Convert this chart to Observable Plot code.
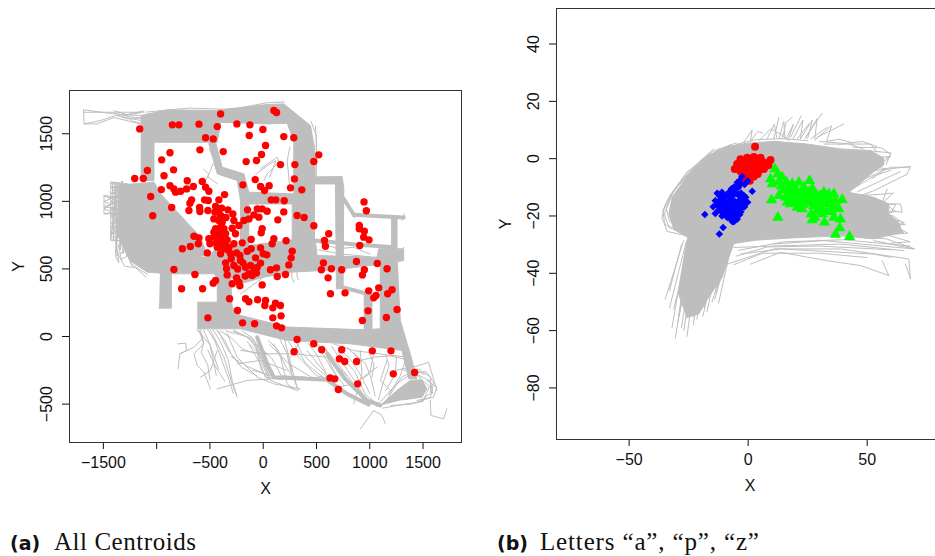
<!DOCTYPE html>
<html><head><meta charset="utf-8">
<script src="https://cdn.jsdelivr.net/npm/d3@7"></script>
<script src="https://cdn.jsdelivr.net/npm/@observablehq/plot@0.6"></script>
<style>
html,body{margin:0;padding:0;background:#fff;width:935px;height:556px;overflow:hidden;position:relative}
#a,#b{position:absolute;top:0}
#a{left:0}#b{left:490px}
.cap{position:absolute;top:529px;white-space:nowrap;color:#111}
.cap b{font:bold 19px "DejaVu Sans";position:absolute;left:0;top:3px}
.cap span{font:25px "Liberation Serif";letter-spacing:.55px;position:absolute;top:-1px}
</style></head><body>
<div id="a"></div><div id="b"></div>
<div class="cap" style="left:10px"><b>(a)</b><span style="left:44px">All Centroids</span></div>
<div class="cap" style="left:497px"><b>(b)</b><span style="left:43px;letter-spacing:.85px">Letters “a”, “p”, “z”</span></div>
<script>
const GRAY = "#bebebe";
// ---------- panel (a) ticks
const aXTicks = [-1500,-1000,-500,0,500,1000,1500];
const aYTicks = [-500,0,500,1000,1500];
// ---------- panel (a) centroids
const centroids = [[-1159,1536],[-853,1566],[-791,1566],[-603,1571],[-400,1647],[-247,1573],[-125,1566],[100,1672],[125,1657],[-431,1553],[-3,1531],[-541,1470],[-469,1462],[-131,1487],[193,1479],[287,1470],[-594,1381],[-375,1368],[22,1413],[-16,1346],[-875,1359],[-953,1307],[-160,1294],[-63,1302],[162,1272],[297,1272],[521,1344],[475,1295],[-1087,1228],[-841,1233],[-1206,1169],[-1125,1169],[-931,1189],[-713,1152],[-572,1147],[-75,1161],[293,1166],[-191,1122],[-25,1110],[56,1115],[12,1080],[256,1100],[362,1085],[-875,1115],[-838,1092],[-956,1087],[-656,1110],[-719,1092],[-775,1075],[-822,1068],[-541,1105],[-510,1075],[-1056,1036],[-363,1050],[-416,1011],[-672,1011],[-688,986],[-550,1011],[-516,1006],[75,1011],[118,1011],[197,1004],[946,996],[968,930],[-859,954],[-597,954],[-594,925],[-697,932],[-519,932],[-447,962],[-453,920],[-331,937],[-147,937],[-56,944],[-10,944],[37,927],[193,922],[-1037,893],[318,895],[384,880],[-285,907],[-400,895],[-463,870],[-88,900],[-41,883],[-134,870],[-181,858],[137,863],[-385,846],[-275,858],[-400,809],[-291,801],[-228,821],[475,819],[902,821],[902,797],[949,779],[-10,797],[-19,767],[615,760],[-260,760],[-463,772],[-353,760],[-650,742],[-603,730],[-510,723],[-463,735],[-400,735],[-338,715],[-113,718],[100,723],[215,708],[943,735],[993,715],[575,710],[584,668],[906,673],[-609,686],[-500,686],[-197,693],[-275,686],[84,686],[-759,649],[-684,666],[-431,661],[-353,673],[-525,619],[-400,612],[-375,649],[-150,631],[-113,649],[-25,656],[272,631],[0,612],[34,604],[-250,619],[-306,612],[-219,599],[-72,582],[262,582],[-213,562],[-353,545],[-275,525],[-25,543],[240,530],[565,545],[875,555],[1071,540],[-119,525],[-166,513],[-56,513],[-838,496],[-344,501],[68,494],[125,508],[546,494],[640,501],[737,494],[949,494],[1162,501],[-88,484],[-134,464],[-641,459],[-338,456],[-169,447],[-103,451],[-63,469],[209,459],[132,444],[931,456],[609,434],[-250,434],[-447,414],[-469,395],[-291,390],[-228,402],[-219,375],[-10,382],[-766,353],[-569,353],[1084,360],[990,338],[1209,346],[1168,316],[631,316],[768,323],[1059,304],[1037,286],[-316,279],[-166,279],[-134,257],[-53,272],[22,267],[15,230],[115,247],[162,230],[90,212],[-241,193],[984,190],[1256,200],[168,153],[90,138],[-519,138],[1156,141],[931,119],[-194,101],[-81,94],[125,79],[172,64],[318,-22],[290,-113],[474,-54],[549,-98],[737,-98],[715,-165],[765,-185],[877,-185],[1024,-106],[1199,-106],[1221,-276],[1421,-266],[627,-306],[671,-313],[887,-350],[705,-392],[-416,858],[-369,797],[-447,797],[-400,710],[-322,661],[-420,770],[-440,690],[-380,690],[-330,640],[-300,575],[-190,545],[-240,500],[-420,930],[-390,950],[-350,880]];
// ---------- panel (a) dense trace bundles, as outlines
const bandTopRight = [[-1150,1635],[-900,1677],[-463,1672],[37,1716],[193,1721],[443,1561],[481,1400],[481,710],[272,710],[272,981],[287,1055],[287,1450],[225,1578],[37,1573],[-400,1585],[-431,1437],[-1025,1437],[-1025,1154],[-1150,1154]];
const bandInner = [[-510,1437],[-447,1437],[-385,1253],[-181,1203],[-135,1068],[287,1055],[287,981],[-135,981],[-135,661],[-213,661],[-213,1006],[-244,1154],[-431,1203],[-510,1425]];
const blobCore = [[-1360,1120],[-1025,1142],[-962,1055],[-588,735],[-525,600],[-869,600],[-869,464],[-1087,476],[-1250,560],[-1370,760]];
const bandCentre = [[-869,606],[-525,587],[-431,661],[-135,673],[272,715],[490,715],[506,599],[1068,587],[1084,649],[1318,649],[1318,562],[1131,538],[662,493],[256,476],[6,439],[-213,390],[-306,439],[-431,439],[-463,464],[-869,464]];
const stubLeft = [[-969,476],[-862,476],[-862,210],[-978,210]];
const columnRight = [[481,1179],[740,1184],[756,1105],[750,353],[687,353],[678,1129],[481,1129]];
const columnFar = [[1200,890],[1256,890],[1256,590],[1200,590]];
const columnLow = [[943,316],[1021,316],[1021,55],[943,55]];
const bandBottom = [[-619,254],[-431,254],[-431,439],[-306,439],[-291,217],[-213,156],[225,70],[943,50],[1099,57],[1099,550],[1256,550],[1287,119],[1380,-128],[1443,-313],[1365,-313],[1302,-103],[818,-54],[225,-29],[-213,57],[-619,57]];
const blobLow = [[1099,-510],[1255,-399],[1380,-325],[1490,-320],[1536,-387],[1490,-449],[1318,-468]];
const aOutlines = [bandTopRight,bandInner,blobCore,bandCentre,stubLeft,columnRight,columnFar,columnLow,bandBottom,blobLow];
// ---------- panel (a) thicker strands
const aStrandsHeavy = [
 [[756,1018],[855,895]],[[849,900],[1318,880]],[[490,710],[870,680],[1225,660]],[[740,365],[975,316]],
 [[599,-128],[755,-301],[974,-473],[1099,-510]],[[37,-202],[99,-301],[599,-320],[787,-424],[990,-503]],[[-57,-5],[37,-202]]
];
// ---------- panel (a) single traces
const aTraces = [
 [[-1687,1677],[-1400,1647],[-1150,1635]],[[-1687,1677],[-1681,1573],[-1525,1598],[-1384,1635],[-1150,1598]],[[-1681,1659],[-1400,1659],[-1119,1659]],[[-1681,1573],[-1560,1573],[-1400,1620],[-1150,1573]],[[-1400,1670],[-1270,1640],[-1150,1655]],[[-1400,1655],[-1280,1610],[-1150,1620]],[[-1360,1645],[-1260,1630],[-1150,1610]],[[-1300,1640],[-1220,1590],[-1150,1580]],[[-1330,1625],[-1240,1650],[-1120,1668]],
 [[-1100,1660],[-700,1690],[-300,1680],[40,1730],[200,1735]],[[450,1590],[500,1480],[495,1180]],
 [[-1431,1142],[-1275,1129],[-1415,1080],[-1228,1080],[-1415,1031],[-1228,1018],[-1494,1043],[-1494,908],[-1244,908],[-1415,858],[-1244,846],[-1425,797],[-1228,784],[-1425,710],[-1212,710]],
 [[-1431,1142],[-1431,710],[-1370,1142],[-1385,600],[-1320,1150],[-1340,640],[-1270,1120],[-1290,620],[-1230,1100],[-1240,560]],
 [[-1431,1130],[-1250,1125],[-1431,1105],[-1250,1090],[-1431,1060],[-1250,1050],[-1431,1030],[-1250,1010],[-1431,985],[-1250,970],[-1431,935],[-1250,925],[-1431,900],[-1250,870],[-1431,840],[-1250,830],[-1431,815],[-1250,790],[-1431,770],[-1250,745],[-1431,735]],
 [[-1415,1140],[-1405,715],[-1390,1145],[-1375,690],[-1350,1140],[-1345,640],[-1330,1150],[-1315,610],[-1295,1135],[-1280,590],[-1262,1110],[-1250,560]],
 [[-1494,1043],[-1431,1020],[-1494,1000],[-1431,975],[-1494,945],[-1431,925]],
 [[-1431,1100],[-1230,1100],[-1431,1000],[-1230,1000],[-1431,950],[-1250,950],[-1431,880],[-1250,880],[-1431,760],[-1220,760]],
 [[-1494,1043],[-1350,1000],[-1494,960],[-1300,930],[-1494,908]],
 [[-1380,710],[-1355,545],[-1385,595],[-1244,660],[-1244,540],[-1150,490],[-1087,460]],[[-1385,640],[-1300,520],[-1200,510],[-1100,440]],[[-1360,680],[-1330,570],[-1270,600],[-1230,520]],
 [[-25,1240],[131,1327],[147,1290],[37,1203],[6,1154]],[[-70,1200],[50,1270],[120,1300],[60,1180]],
 [[-505,1390],[-463,1310],[-431,1260]],[[-560,1240],[-510,1200],[-560,1120],[-500,1070]],[[-470,1280],[-520,1180],[-430,1130]],
 [[250,1400],[225,1300],[250,1100]],[[490,1560],[500,1400],[497,1179]],[[-213,316],[6,439]],[[250,600],[272,430],[290,400]],[[300,590],[320,440],[330,420]],[[-100,1000],[-30,960]],
 [[380,1300],[500,1180],[690,1180]],[[690,1040],[710,400]],[[1320,910],[1326,880],[1300,860]],[[1318,660],[1290,600]],[[500,700],[700,650],[850,660],[1000,610]],[[520,640],[750,610],[1000,590]],
 [[1100,550],[1110,200]],[[1260,550],[1270,300]],[[1250,200],[1296,195],[1270,170]],
 [[-603,45],[-557,-54],[-650,-128],[-619,-214],[-557,-264],[-494,-387]],
 [[-494,45],[-369,-153],[-291,-350],[-244,-449]],
 [[-275,45],[-88,-30],[6,-202],[68,-325],[318,-399]],
 [[-432,-387],[-151,-325],[99,-313]],
 [[-244,-202],[-25,-177],[224,-251]],
 [[912,-104],[927,-276],[849,-498]],
 [[912,-683],[1037,-547],[1115,-584],[1146,-646]],
 [[1568,-473],[1574,-584],[1693,-609],[1724,-535]],
 [[1630,-399],[1552,-190],[1411,-227]],
 [[1536,-325],[1630,-375],[1599,-449],[1443,-473]],
 [[-800,-54],[-728,-49],[-719,-104],[-782,-128],[-800,-239]],
 [[-782,-128],[-650,-79],[-557,-5]],
 [[99,-54],[162,-153],[224,-350],[287,-387]],
 [[-213,-103],[37,-128],[287,-128],[599,-153],[693,-301]],
 [[412,-104],[537,-227],[693,-375],[849,-350],[1068,-227]],
 [[-338,20],[-244,-153],[-57,-301],[99,-350],[349,-387]],
 [[-588,-301],[-494,-251],[-432,-104]],
 [[1162,-177],[1099,-325],[1193,-399]],
 [[787,-79],[912,-177],[1037,-153],[1224,-140],[1349,-153]],
 [[662,-54],[849,-104],[1099,-128],[1318,-165]],
 [[-150,-40],[-60,-110],[-20,-240],[50,-320]],[[-620,50],[-500,-60],[-420,-240]],[[-420,40],[-330,-100],[-200,-230],[-60,-290]],[[240,-40],[330,-150],[500,-290],[620,-310]],[[60,-60],[240,-200],[450,-300],[650,-320]],[[700,-120],[860,-260],[960,-430],[1060,-490]],[[-100,-250],[120,-300],[500,-310]],[[1300,-240],[1450,-290],[1560,-370],[1500,-480],[1330,-500],[1120,-530]],[[1330,-110],[1440,-280],[1570,-330],[1590,-420]],[[560,-70],[640,-170],[780,-290]],[[330,-60],[240,-170],[270,-260]],[[940,-310],[1000,-270],[1040,-120]],
 [[-590,50],[-560,-40],[-580,-120],[-520,-210],[-500,-320]],[[-560,50],[-500,-60],[-470,-170],[-440,-290]],[[-520,50],[-450,-40],[-400,-150],[-330,-300],[-280,-420]],[[-470,50],[-400,-40],[-330,-170],[-290,-330],[-250,-430]],[[-440,50],[-360,-30],[-300,-130],[-220,-210]],[[-400,40],[-300,-10],[-200,-90],[-100,-120],[40,-130]],[[-350,40],[-250,20],[-120,-10],[-60,-100],[-20,-190],[40,-290]],[[-280,40],[-160,0],[-70,-70],[-10,-180],[60,-300]],[[-200,40],[-100,-10],[-40,-90],[30,-230],[90,-310]],
 [[50,-30],[140,-100],[210,-220],[300,-320]],[[150,-10],[220,-120],[260,-260],[330,-400]],[[200,-20],[240,-150],[320,-380]],[[310,-40],[360,-120],[470,-210],[600,-300]],[[420,-50],[500,-130],[590,-270]],[[470,-20],[560,-130],[650,-250],[760,-360]],[[560,-70],[680,-180],[830,-330],[950,-480]],[[640,-70],[740,-190],[860,-330],[960,-460]],[[700,-80],[820,-170],[910,-280],[1000,-420]],[[850,-120],[960,-200],[1010,-300],[1050,-440]],[[1000,-130],[1040,-210],[1020,-300]],[[1150,-130],[1180,-220],[1130,-330],[1080,-470]],[[1250,-150],[1240,-280],[1150,-400]],[[1330,-190],[1280,-300],[1180,-430]],
 [[1060,-520],[1250,-350],[1400,-270],[1530,-260],[1600,-340],[1570,-450],[1400,-500],[1200,-510]],[[1150,-480],[1300,-300],[1450,-240],[1570,-300],[1570,-420],[1450,-490]],[[1250,-250],[1380,-230],[1510,-280]],
 [[-60,-60],[80,-160],[170,-290],[400,-300]],[[-300,-150],[-150,-220],[50,-290]],[[-130,-60],[-30,-200],[20,-300],[180,-320]],[[300,-70],[400,-200],[560,-300]],[[520,-60],[700,-250],[860,-400]],[[-520,-100],[-450,-220],[-360,-330]]
];
// ---------- panel (b)
const bXTicks = [-50,0,50];
const bYTicks = [-80,-60,-40,-20,0,20,40];
const lettersA = [[2.9,4.2],[-3.2,-0.2],[-0.4,0.35],[2.4,0.6],[5.2,0.35],[9.4,-0.5],[8.5,-2.3],[6.6,-3.6],[4,-5.35],[0.7,-7.7],[-3.2,-4.4],[-5.6,-3.6],[-4.6,-1.9],[-1.8,-1.9],[1,-1.9],[3.8,-1.9],[6.6,-1.3],[-0.4,-4.2],[2.4,-4.2],[4.6,-4],[-2.4,-6.3],[0.3,-5.6],[2.4,-6.2],[-1.6,-7.7],[-3.2,-2.4],[3.1,-0.7],[0.3,-0.7],[5.9,-2.8],[1,-3],[3,-3],[-2,-3.5],[5,-1],[-1,-1],[1,-6],[-2,-5],[-4.5,-3.5]];
const lettersZ = [[11.2,-3.6],[9.4,-7.1],[10.1,-8.8],[12.5,-5.35],[14.3,-6.5],[16.1,-8.3],[18.5,-8.8],[21.3,-8.3],[19.5,-10],[23.4,-10],[25.8,-7.7],[17.1,-10.6],[9.8,-14.4],[12.9,-12.9],[15.7,-13.5],[16.4,-15.2],[19.2,-13.5],[22,-12.3],[25.5,-11.75],[27.6,-13.5],[24.8,-14.7],[21.3,-15.2],[17.8,-15.8],[20.6,-17],[23.4,-13.5],[27.6,-16.4],[30.4,-14.7],[31.8,-11.75],[33.9,-12.3],[36,-12.3],[39.5,-14.3],[30.4,-17],[33.2,-15.8],[36.7,-14.7],[38.1,-17.6],[26.5,-19.3],[26.9,-21.4],[32.1,-22.2],[31.1,-19.3],[36,-20.5],[38.8,-21.1],[12.5,-20.5],[38.5,-24.2],[36.7,-26.5],[42.6,-27.2],[29,-18.2],[31.8,-13.5],[34.6,-14.7],[19.2,-11.75],[22.7,-17.6],[14,-9.5],[21,-12],[24,-12],[26,-15.5],[23,-16],[19,-15],[29,-15],[28,-12],[30,-13],[33,-13.5],[36,-16.5],[15,-11],[18,-12.5],[13,-8],[27,-10.5],[29.5,-16],[35,-18.5],[33,-18.5],[28,-20.5],[24,-12.5]];
const lettersP = [[-2.5,-6.2],[-0.2,-7.8],[1.7,-11.4],[-4.6,-8.3],[-6,-10],[-3.2,-8.8],[-13,-12.1],[-11,-11.75],[-8.1,-11.75],[-4.6,-12.3],[-1.8,-12.9],[-13.8,-14.7],[-11,-14.1],[-7.4,-14.1],[-4,-14.7],[-0.2,-15.2],[-14.7,-16.8],[-11.6,-16.4],[-8.8,-16.4],[-6,-16.4],[-2.5,-17],[-13.8,-19.1],[-11,-18.7],[-8.1,-18.7],[-4.6,-18.7],[-3.2,-17.6],[-18.2,-19.5],[-6.7,-21.9],[-4.6,-21.1],[-8.8,-20.5],[-10.5,-24],[-12.1,-26.3],[-6.7,-20.5],[-1.8,-15.8],[-12,-13],[-9.5,-13],[-6.5,-13],[-3,-13.5],[-12.5,-15.5],[-9.5,-15.3],[-5.5,-15],[-2.5,-14.8],[-10,-17.5],[-7.5,-17.5],[-5,-17.6],[-1.5,-16.8],[-12.5,-18],[-9.5,-19.5],[-6.5,-19.5],[-3.5,-19.5],[-7.5,-21],[-5.5,-20.5],[-5.5,-10.5],[-4,-10],[-7,-12],[-3.5,-7.5],[-5,-9.5],[-1.5,-9],[-8,-15],[-10.5,-16],[-7,-16],[-13,-16],[-11,-13],[-10,-14.7],[-8,-13.5],[-4.5,-16],[-3,-16],[-1,-13.5],[-3,-12],[-12,-17],[-9,-18],[-6,-18],[-3,-18.5],[-11,-20],[-8,-20],[-6,-22],[-5,-19],[-12,-14.5],[-1,-15],[-7,-10.5],[-5.5,-11.5]];
const bodyOutline = [[-25.6,-27.4],[-31.2,-24.6],[-33.3,-19.3],[-31.9,-13.5],[-25.6,-6],[-17.2,1],[-8.8,4.2],[-0.4,5.4],[10.8,6.05],[24.8,5.1],[38.8,3.4],[51.4,2.8],[57,0.2],[57,-2.1],[51.4,-5.4],[45.8,-9.4],[42.3,-11.75],[52.8,-13.5],[59.1,-15.8],[59.1,-19.3],[63.3,-22.2],[64.7,-25.7],[52.8,-28],[38.8,-26.9],[17.8,-27.7],[3.8,-28.4],[-6,-29.6],[-8.1,-34.4],[-10.9,-41.4],[-16.6,-48.4],[-20.8,-54.2],[-25.7,-55.4],[-29.2,-47.2],[-25.7,-28.6]];
const bTraces = [
 [[10.8,6.9],[12.9,14.4]],[[14.3,6.9],[16,12.7],[18.5,14.4]],[[17.8,7.45],[22.3,15]],[[20.6,6.9],[25.5,12.1]],[[24.1,7.45],[31.1,15.8]],[[29,7.45],[40.2,12.1]],[[-1.8,5.7],[1.7,10],[1,6.3]],[[4.5,6.3],[9.4,10.35],[13.6,8.6],[17.1,6.3]],[[26.2,6.9],[33.2,10.9]],[[16,7],[19,12],[17,7]],[[22,7],[27,13.5],[25,7]],
 [[1,6],[4,9.5],[6,9]],[[8,7],[11,12],[12,7.5]],[[13,7],[15,13],[15.5,7]],[[19,7],[23,13.5],[22,7]],[[24,7],[29,14],[28,7]],[[28,6.5],[35,11.5],[33,6]],[[33,6],[38,6.8],[44,5.5]],[[38,5],[48,6],[54,4.2]],[[44,4],[56,3.8],[60,1.5],[58,0]],[[48,3],[60,2],[58,-2]],[[45,-2],[58,-3.5],[52,-7]],
 [[31.8,5.1],[51.4,5.1],[54.2,2.2]],[[30,6],[42,5.2],[48,3.5]],
 [[42.3,-11.75],[52.8,-4.2],[68.2,-2.7],[66.8,-5.4],[52.8,-11.2],[45.1,-13.5]],[[47.2,-7.7],[59.8,-3],[67.5,-3]],[[52.8,0.5],[59.8,0.7],[55.6,-1.9]],[[44,-10.5],[53,-6],[60,-4]],[[46,-11.5],[55,-8],[64,-4.5]],
 [[58.4,-10.6],[56.3,-15.3],[58.4,-15.8],[64,-15.8],[64.7,-18.7],[59.8,-18.2]],[[52.8,-19.3],[65.4,-22.2],[61.2,-24],[65.4,-25.7],[59.8,-25.1]],[[50,-15],[58,-16],[62,-18.5],[56,-19]],
 [[42,-13],[55,-12.5],[61,-12],[57,-15]],[[45,-15],[62,-16],[60,-19]],[[46,-17],[61,-20],[66,-23],[60,-23]],[[45,-22],[62,-23.5],[67,-26],[60,-26.5]],[[44,-25],[60,-27],[68,-29],[60,-29.5]],[[45,-27],[58,-28],[70,-31.5]],
 [[10.8,-29.8],[31.8,-28.6],[69.6,-31.5],[52.8,-28.6]],[[-8.8,-36.8],[10.8,-31.5],[38.8,-31.5],[67.5,-35],[68.2,-42],[66.1,-36.8]],[[1,-36.8],[13.6,-32.7],[33.2,-35.6],[47.2,-37.3],[59.1,-40.8],[56.3,-35.6]],[[-6,-31],[13.6,-30.4],[38.8,-29.8],[65.4,-32.1]],[[-3.2,-33.3],[13.6,-31.5],[52.8,-33.3],[59.8,-34.4]],[[-5,-34],[8,-30.8],[30,-30.5],[60,-31.8]],[[-4,-32],[15,-29],[40,-28.3],[68,-30.5]],[[-6,-37],[6,-33],[30,-33],[50,-34.5]],
 [[-25.6,-26.9],[-34,-25.4],[-36.2,-20.5],[-34.7,-15.8],[-25.6,-4.8],[-14.4,3.4]],[[-27,-26.3],[-33.3,-24],[-35.2,-19.3],[-31.2,-11.2],[-20,-0.7],[-7.4,4.9]],[[-28,-24],[-33,-22],[-34.5,-17],[-32,-12],[-24,-4],[-12,3.5]],[[-27,-25.5],[-35,-23],[-35.8,-18],[-33,-13],[-26,-5],[-15,2.5],[-5,5.5]],[[-5,5],[3,6.6],[14,7],[25,6.3]],
 [[-27.1,-28.6],[-34.8,-49]],[[-25.7,-28.6],[-32,-58.9]],[[-24.3,-31],[-30.6,-62.6]],[[-21.5,-36.8],[-25.7,-62]],[[-18.7,-42.6],[-22.9,-55.4]],[[-11.7,-32.1],[-17.3,-53.4]],[[-6.8,-29.2],[-12.4,-50.4]],[[-10.3,-36.8],[-15.2,-50.1]],[[-24.3,-29.8],[-31.3,-52.5]],[[-23,-32],[-28,-59]],[[-20,-36],[-23,-58]],[[-14,-36],[-19,-55]],[[-28,-30],[-33,-46]],[[-8,-31],[-14,-49]],
 [[-26,-29],[-33,-52]],[[-25,-30],[-29.5,-57]],[[-22,-30],[-27,-60]],[[-18,-36],[-21.5,-56]],[[-12,-34],[-18.5,-52]],[[-9,-33],[-13.5,-47]],[[-7.5,-30],[-13,-45]],[[-24,-34],[-29,-55]]
];
function grayMarks(outlines, strands, traces, heavyWidth){
  return [
    ...outlines.map(p => Plot.line(p,{x:d=>d[0],y:d=>d[1],fill:GRAY,stroke:GRAY,strokeWidth:1})),
    ...strands.map(p => Plot.line(p,{x:d=>d[0],y:d=>d[1],stroke:GRAY,strokeWidth:heavyWidth})),
    ...traces.map(p => Plot.line(p,{x:d=>d[0],y:d=>d[1],stroke:GRAY,strokeWidth:1}))
  ];
}
const baseStyle = {fontFamily:"'Liberation Sans'",fontSize:"16px",background:"#fff",overflow:"visible",maxWidth:"none"};
const minus = d => String(d).replace("-","\u2212");
function panel(cfg){
  return Plot.plot({
    width:cfg.w,height:cfg.h,marginLeft:cfg.ml,marginRight:cfg.mr,marginTop:cfg.mt,marginBottom:cfg.mb,
    style:baseStyle,
    x:{domain:cfg.xd},y:{domain:cfg.yd},
    marks:[
      ...cfg.marks,
      Plot.axisX(cfg.xt,{anchor:"bottom",tickSize:7,tickPadding:7,label:"X",labelAnchor:"center",labelArrow:"none",labelOffset:51,tickFormat:cfg.xf,stroke:"#111",fill:"#111"}),
      Plot.axisY(cfg.yt,{anchor:"left",tickSize:7,tickPadding:11,tickRotate:-90,label:"Y",labelAnchor:"center",labelArrow:"none",labelOffset:57,tickFormat:minus,stroke:"#111",fill:"#111"}),
      Plot.frame({stroke:"#333",strokeWidth:1})
    ]
  });
}
document.getElementById("a").append(panel({
  w:490,h:500,ml:69,mr:29,mt:90,mb:58,
  xd:[-1818,1861],yd:[-784,1820],xt:aXTicks,yt:aYTicks,
  xf:d=>d===-1000?"":minus(d),
  marks:[
    ...grayMarks(aOutlines,aStrandsHeavy,aTraces,4),
    Plot.dot(centroids,{x:d=>d[0],y:d=>d[1],r:3.7,fill:"#ff0000",stroke:null})
  ]
}));
document.getElementById("b").append(panel({
  w:453,h:500,ml:66,mr:0,mt:8,mb:61,
  xd:[-80.5,82.06],yd:[-98,52.4],xt:bXTicks,yt:bYTicks,
  xf:minus,
  marks:[
    ...grayMarks([bodyOutline],[],bTraces,1),
    Plot.dot(lettersA,{x:d=>d[0],y:d=>d[1],r:4,fill:"#ff0000",stroke:null}),
    Plot.dot(lettersZ,{x:d=>d[0],y:d=>d[1],r:4.2,symbol:"triangle",fill:"#00ff00",stroke:null}),
    Plot.dot(lettersP,{x:d=>d[0],y:d=>d[1],r:3.4,symbol:"diamond2",fill:"#0000ff",stroke:null})
  ]
}));
</script>
</body></html>
